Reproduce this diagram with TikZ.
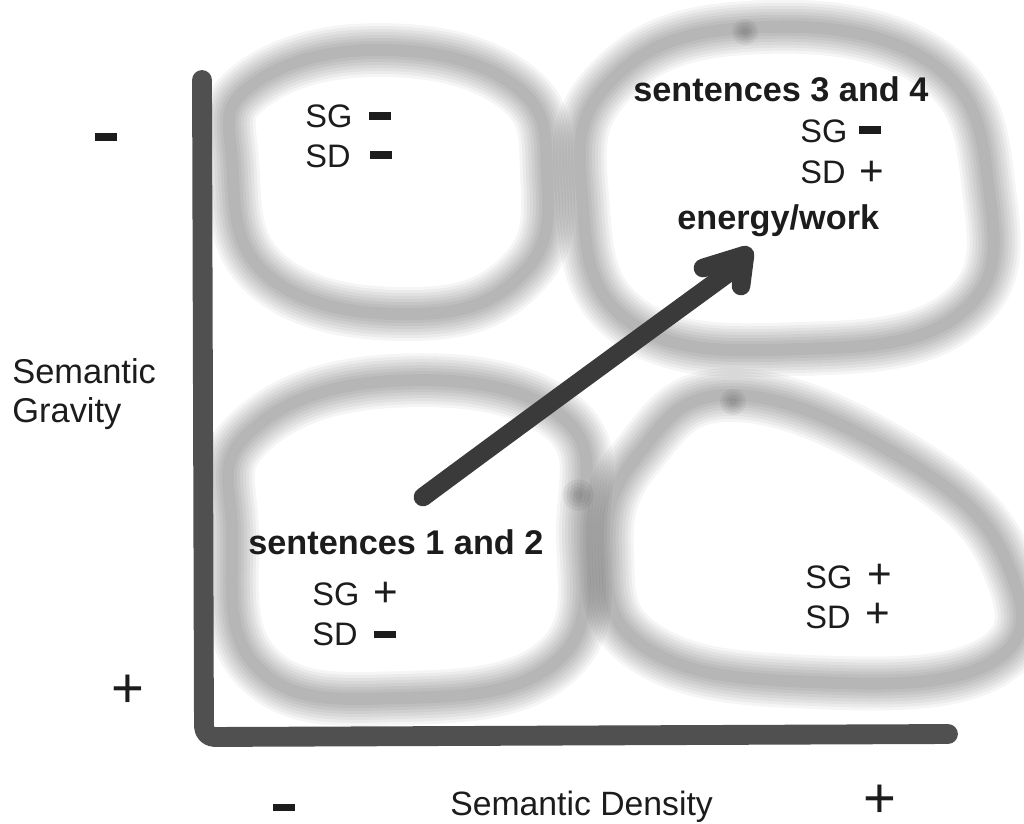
\documentclass[tikz,border=0pt]{standalone}
\usepackage{fontspec}
\setmainfont{Liberation Sans}
\definecolor{ink}{HTML}{1C1C1C}
\definecolor{axisgray}{HTML}{505050}
\definecolor{arrowgray}{HTML}{3A3A3A}
\newcommand\softring[1]{%
  \foreach \w in {54,48,42,36,30,24,18,12}{%
    \draw[line width=\w*0.567pt, black, opacity=0.038] plot[smooth cycle, tension=0.75] coordinates {#1};
  }}
\newcommand\softspot[2]{%
  \foreach \r in {13,10,7,4}{%
    \fill[black, opacity=0.05] (#1) circle[radius=\r*#2];
  }}
\begin{document}
\begin{tikzpicture}[x=0.02cm,y=-0.02cm, line cap=round, line join=round]
\tikzset{
  lab/.style={anchor=base west, inner sep=0, text=ink, font=\fontsize{18.5}{20}\selectfont},
  blab/.style={anchor=base west, inner sep=0, text=ink, font=\fontsize{19.5}{22}\selectfont\bfseries},
  axlab/.style={anchor=base west, inner sep=0, text=ink, font=\fontsize{19.6}{22}\selectfont},
  pl/.style={inner sep=0, text=ink, font=\fontsize{24}{24}\selectfont},
  bigpl/.style={inner sep=0, text=ink, font=\fontsize{32}{32}\selectfont},
  mn/.style={inner sep=0, fill=ink, minimum width=13pt, minimum height=4pt},
  axis/.style={draw=axisgray, line width=11.3pt, rounded corners=6pt},
  arr/.style={draw=arrowgray, line width=10.6pt}
}
\useasboundingbox (0,0) rectangle (1024,823);
\fill[white] (0,0) rectangle (1024,823);

% soft rings
\softring{(232,160) (252,85) (380,50) (515,86) (547,175) (524,272) (415,314) (268,276)}
\softring{(582,195) (610,82) (745,28) (930,62) (989,190) (962,312) (800,349) (630,322)}
\softring{(232,530) (250,432) (392,381) (560,415) (583,530) (558,660) (400,698) (258,668)}
\softring{(607,550) (638,455) (735,395) (910,463) (1008,565) (992,662) (812,682) (646,648)}
\softspot{745,32}{1}
\softspot{733,402}{1}
\softspot{578,495}{1.2}

% axes
\coordinate (axT) at (202,80);
\coordinate (axC) at (204,737);
\coordinate (axR) at (948,734);
\draw[axis] (axT) -- (axC) -- (axR);

% arrow
\coordinate (arrS) at (423,497);
\coordinate (arrE) at (742,263);
\coordinate (hdL) at (703,268);
\coordinate (hdT) at (745,255);
\coordinate (hdB) at (741,286);
\draw[arr] (arrS) .. controls (520,425) and (650,330) .. (arrE);
\draw[arr] (hdL) -- (hdT) -- (hdB);

% top-left quadrant
\node[lab] (tlSG) at (305,127) {SG};
\node[mn]  (tlSGm) at (380,116) {};
\node[lab] (tlSD) at (305,167) {SD};
\node[mn]  (tlSDm) at (381,155) {};

% top-right quadrant
\node[blab] (trT) at (633,101) {sentences 3 and 4};
\node[lab] (trSG) at (800,142) {SG};
\node[mn]  (trSGm) at (870,130) {};
\node[lab] (trSD) at (800,183) {SD};
\node[pl]  (trSDp) at (872,173) {+};
\node[blab] (trE) at (677,229) {energy/work};

% bottom-left quadrant
\node[blab] (blT) at (248,554) {sentences 1 and 2};
\node[lab] (blSG) at (312,605) {SG};
\node[pl]  (blSGp) at (386,594) {+};
\node[lab] (blSD) at (312,645) {SD};
\node[mn]  (blSDm) at (385,634) {};

% bottom-right quadrant
\node[lab] (brSG) at (805,588) {SG};
\node[pl]  (brSGp) at (880,576) {+};
\node[lab] (brSD) at (805,628) {SD};
\node[pl]  (brSDp) at (878,615) {+};

% axis labels
\node[mn] (yMinus) at (106,137) {};
\node[bigpl] (yPlus) at (128,691) {+};
\node[axlab] (yLab1) at (12,383) {Semantic};
\node[axlab] (yLab2) at (12,422) {Gravity};
\node[mn] (xMinus) at (284,807) {};
\node[bigpl] (xPlus) at (880,801) {+};
\node[axlab, font=\fontsize{19.2}{22}\selectfont] (xLab) at (450,815) {Semantic Density};
\end{tikzpicture}
\end{document}
